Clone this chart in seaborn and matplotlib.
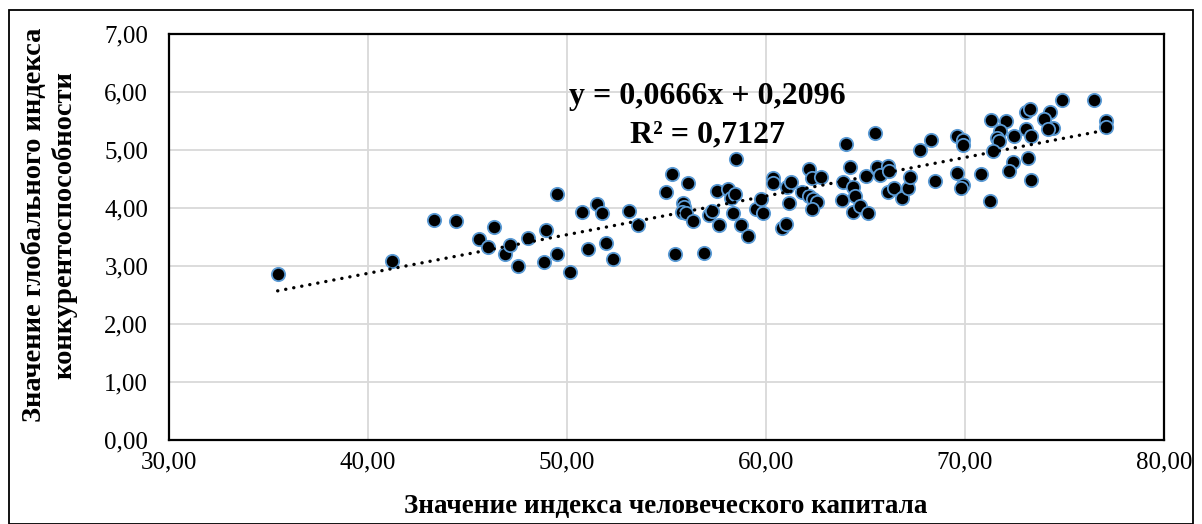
import pandas as pd
import numpy as np
from matplotlib import pyplot as plt
from matplotlib.patches import Rectangle
from matplotlib.ticker import FuncFormatter, MultipleLocator
import seaborn as sbn

# values
human_capital = [
    35.46, 41.19, 43.33, 44.44, 45.60, 46.05, 46.35, 46.88, 47.14, 47.55,
    48.02, 48.86, 48.94, 49.48, 49.48, 50.15, 50.77, 51.04, 51.49, 51.78,
    51.96, 52.33, 53.12, 53.59, 54.97, 55.29, 55.43, 56.08, 55.81, 55.88,
    55.76, 56.00, 56.35, 56.86, 57.15, 57.27, 57.55, 57.65, 58.10, 58.22,
    58.44, 58.36, 58.50, 58.72, 59.10, 59.50, 59.75, 59.87, 60.35, 60.34,
    60.79, 61.00, 61.15, 61.04, 61.28, 61.79, 62.16, 62.30, 62.75, 62.18,
    62.38, 62.55, 62.30, 64.00, 63.80, 63.88, 64.20, 64.38, 64.47, 64.36,
    64.70, 65.14, 65.00, 65.48, 65.60, 65.73, 66.15, 66.18, 66.15, 66.45,
    66.85, 67.15, 67.24, 67.74, 68.28, 68.49, 69.59, 69.90, 69.88, 69.61,
    69.88, 69.78, 70.82, 71.26, 71.32, 72.06, 71.74, 71.59, 71.69, 71.42,
    72.46, 72.43, 72.19, 73.09, 73.27, 73.07, 73.30, 73.15, 73.34, 74.28,
    73.95, 74.44, 74.17, 74.85, 76.49, 77.08, 77.10,
]
competitiveness = [
    2.87, 3.09, 3.80, 3.78, 3.47, 3.33, 3.68, 3.20, 3.36, 3.00,
    3.48, 3.07, 3.62, 3.21, 4.24, 2.89, 3.93, 3.30, 4.07, 3.91,
    3.40, 3.12, 3.95, 3.71, 4.27, 4.59, 3.21, 4.43, 4.08, 4.02,
    3.93, 3.91, 3.78, 3.23, 3.88, 3.94, 4.30, 3.71, 4.32, 4.17,
    4.25, 3.91, 4.84, 3.71, 3.52, 3.98, 4.16, 3.91, 4.51, 4.43,
    3.65, 3.73, 4.08, 4.36, 4.45, 4.28, 4.68, 4.51, 4.53, 4.20,
    4.15, 4.11, 3.99, 5.11, 4.14, 4.44, 4.70, 4.37, 4.20, 3.93,
    4.04, 3.91, 4.55, 5.30, 4.71, 4.57, 4.72, 4.63, 4.27, 4.34,
    4.18, 4.34, 4.54, 5.00, 5.17, 4.47, 5.24, 5.18, 5.08, 4.60,
    4.40, 4.35, 4.59, 4.12, 5.52, 5.50, 5.33, 5.21, 5.16, 4.99,
    5.24, 4.79, 4.64, 5.66, 5.71, 5.37, 5.25, 4.86, 4.48, 5.66,
    5.53, 5.38, 5.37, 5.86, 5.86, 5.50, 5.40,
]
slope = 0.0666
intercept = 0.2096
r_squared = 0.7127

x_label = "Значение индекса человеческого капитала"
y_label = "Значение глобального индекса\nконкурентоспособности"

df = pd.DataFrame({"hc": human_capital, "gci": competitiveness})

plt.rcParams['font.family'] = ['Liberation Serif', 'DejaVu Serif']

W, H = 1202, 524
fig = plt.figure(figsize=(W / 100, H / 100), dpi=100)
ax = fig.add_axes([169 / W, 1 - 440 / H, (1164 - 169) / W, (440 - 34) / H])

# outer chart frame
fig.patches.append(Rectangle((9 / W, 0.0), (1193 - 9) / W, 1 - 10 / H,
                             transform=fig.transFigure, fill=False,
                             edgecolor="black", linewidth=1.3))

ax.grid(True, color="#d9d9d9", linewidth=1.3, zorder=0)
ax.set_axisbelow(True)

sbn.scatterplot(data=df, x="hc", y="gci", ax=ax, s=92, color="black",
                edgecolor="#5b9bd5", linewidth=1.3, zorder=3, legend=False)

# linear trendline over the data range
xs = np.array([df["hc"].min(), df["hc"].max()])
ax.plot(xs, slope * xs + intercept, color="black", linewidth=2.4,
        linestyle=(0, (0.05, 2.4)), dash_capstyle="round", zorder=4)

ax.text(0.541, 0.846, f"y = {slope:.4f}x + {intercept:.4f}".replace(".", ","),
        transform=ax.transAxes, ha="center", va="center",
        fontsize=23, fontweight="bold")
ax.text(0.541, 0.751, f"R² = {r_squared:.4f}".replace(".", ","),
        transform=ax.transAxes, ha="center", va="center",
        fontsize=23, fontweight="bold")

ax.set_xlim(30, 80)
ax.set_ylim(0, 7)
ax.xaxis.set_major_locator(MultipleLocator(10))
ax.yaxis.set_major_locator(MultipleLocator(1))
fmt = FuncFormatter(lambda v, p: f"{v:.2f}".replace(".", ","))
ax.xaxis.set_major_formatter(fmt)
ax.yaxis.set_major_formatter(fmt)
ax.tick_params(axis="both", length=0, labelsize=18)
ax.tick_params(axis="x", pad=8)
ax.tick_params(axis="y", pad=15)
for sp in ax.spines.values():
    sp.set_color("black")
    sp.set_linewidth(1.6)

ax.set_xlabel("")
ax.set_ylabel("")
fig.text(666 / W, 1 - 507 / H, x_label, ha="center", va="center",
         fontsize=19.5, fontweight="bold")
fig.text(50 / W, 1 - 225 / H, y_label, ha="center", va="center",
         rotation=90, fontsize=20.5, fontweight="bold", multialignment="center",
         linespacing=1.2)

fig.savefig("out.png", dpi=100)
